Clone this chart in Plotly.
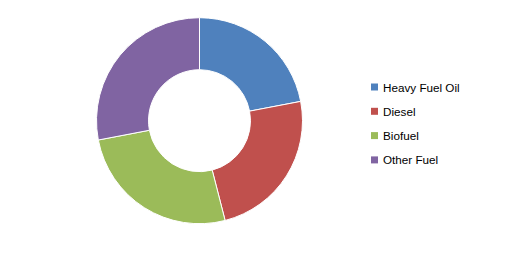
import plotly.graph_objects as go

labels = ["Heavy Fuel Oil", "Diesel", "Biofuel", "Other Fuel"]
values = [22, 24, 26, 28]
colors = ["#4F81BD", "#C0504D", "#9BBB59", "#8064A2"]

W, H = 518, 269

fig = go.Figure(go.Pie(
    labels=labels, values=values, hole=0.495, sort=False, direction="clockwise",
    rotation=0, textinfo="none", hoverinfo="label+percent",
    marker=dict(colors=colors, line=dict(color="white", width=1)),
    domain=dict(x=[96.5/W, 302.5/W], y=[(H-223.7)/H, (H-17.7)/H]),
    showlegend=False,
))

# Custom legend (Excel-style spacing)
legend_y0, legend_step = 87.0, 24.3
shapes, annotations = [], []
for i, (lab, col) in enumerate(zip(labels, colors)):
    yc = legend_y0 + i * legend_step
    shapes.append(dict(type="rect", xref="paper", yref="paper",
                       x0=371/W, x1=378/W, y0=1-(yc+3.5)/H, y1=1-(yc-3.5)/H,
                       fillcolor=col, line=dict(width=0)))
    annotations.append(dict(text=lab, xref="paper", yref="paper",
                            x=381/W, y=1-yc/H, xanchor="left", yanchor="middle",
                            showarrow=False,
                            font=dict(family="Liberation Sans, Arial", size=11.7, color="#000000")))

fig.update_layout(
    width=W, height=H, margin=dict(l=0, r=0, t=0, b=0),
    paper_bgcolor="white", plot_bgcolor="white",
    shapes=shapes, annotations=annotations,
)
fig.write_html("out.html")
